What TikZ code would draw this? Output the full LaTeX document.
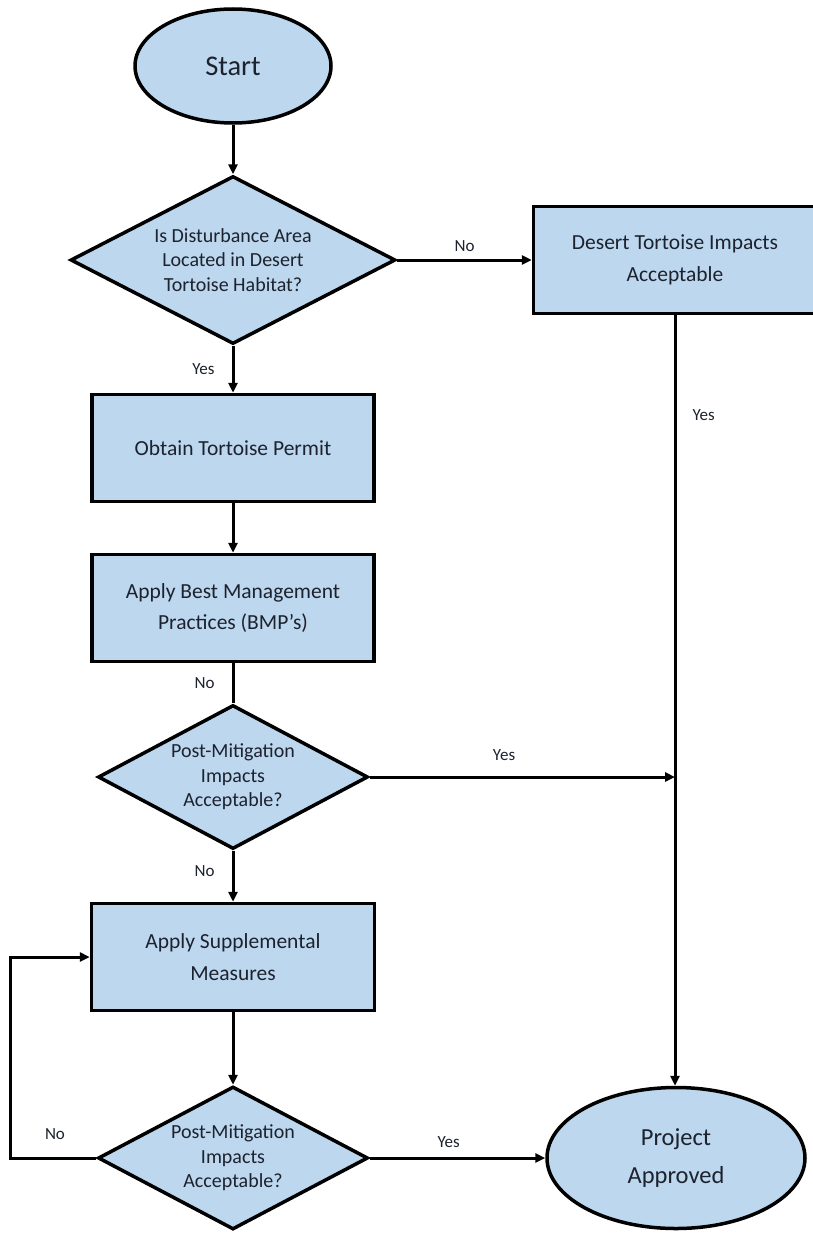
\documentclass[tikz,border=0pt]{standalone}
\usepackage{fontspec}
\setmainfont{Carlito}
\usetikzlibrary{shapes.geometric,arrows.meta,positioning}
\definecolor{boxblue}{RGB}{189,215,238}
\definecolor{inkcol}{RGB}{28,34,46}

\begin{document}
\begin{tikzpicture}[x=1pt,y=-1pt,
  every node/.style={text=inkcol},
  shapebase/.style={draw=black,line width=3.5pt,fill=boxblue,inner sep=0pt,align=center},
  oval/.style={shapebase,ellipse},
  stepbox/.style={shapebase,rectangle,minimum width=282pt,minimum height=107pt,
    font=\fontsize{21.5}{31.5}\selectfont},
  query/.style={shapebase,diamond,font=\fontsize{20}{24.5}\selectfont},
  flow/.style={line width=3pt,-{Triangle[length=10pt,width=9pt]}},
  plain/.style={line width=3pt},
  tag/.style={font=\fontsize{17}{20}\selectfont,inner sep=2pt}]
  % Page
  \fill [white] (0,0) rectangle (812,1234);
  \useasboundingbox (0,0) rectangle (812,1234);

  % Shapes
  \node (start) [oval,minimum width=196pt,minimum height=114pt,
    font=\fontsize{28.5}{34}\selectfont] at (233,66) {Start};
  \node (habitat) [query,aspect=1.91,minimum width=325pt,minimum height=168pt]
    at (233,260) {Is Disturbance Area\\Located in Desert\\Tortoise Habitat?};
  \node (acceptable) [stepbox,minimum width=283pt] at (675,260)
    {Desert Tortoise Impacts\\Acceptable};
  \node (permit) [stepbox] at (233,448) {Obtain Tortoise Permit};
  \node (bmp) [stepbox] at (233,608) {Apply Best Management\\Practices (BMP's)};
  \node (mitig) [query,aspect=1.86,minimum width=270pt,minimum height=144pt]
    at (233,777) {Post-Mitigation\\Impacts\\Acceptable?};
  \node (supp) [stepbox,minimum width=283pt] at (233,957)
    {Apply Supplemental\\Measures};
  \node (remitig) [query,aspect=1.86,minimum width=270pt,minimum height=143pt]
    at (233,1158) {Post-Mitigation\\Impacts\\Acceptable?};
  \node (approved) [oval,minimum width=258pt,minimum height=141pt,
    font=\fontsize{24.5}{37.5}\selectfont] at (676,1158) {Project\\Approved};
  \coordinate (merge) at (acceptable.south |- mitig.east);

  % Connectors
  \draw [flow] (start) -- (habitat);
  \draw [flow] (habitat.east) -- node [tag,above=5pt] {No} (acceptable.west);
  \draw [flow] (habitat.south) -- node [tag,left=15pt] {Yes} (permit.north);
  \draw [flow] (permit) -- (bmp);
  \draw [plain] (bmp.south) -- node [tag,left=15pt] {No} (mitig.north);
  \draw [flow] (mitig.east) -- node [tag,above=13pt,pos=0.44] {Yes} (merge);
  \draw [flow] (acceptable.south) -- node [tag,right=14pt,pos=0.13] {Yes}
    (acceptable.south |- approved.north);
  \draw [flow] (mitig.south) -- node [tag,left=15pt,pos=0.4] {No} (supp.north);
  \draw [flow] (supp) -- (remitig);
  \draw [flow] (remitig.east) -- node [tag,above=7pt,pos=0.45] {Yes} (approved.west);
  \draw [flow] (remitig.west) -- node [tag,above=15pt,pos=0.48] {No} ++(-86,0)
    |- (supp.west);
\end{tikzpicture}
\end{document}
